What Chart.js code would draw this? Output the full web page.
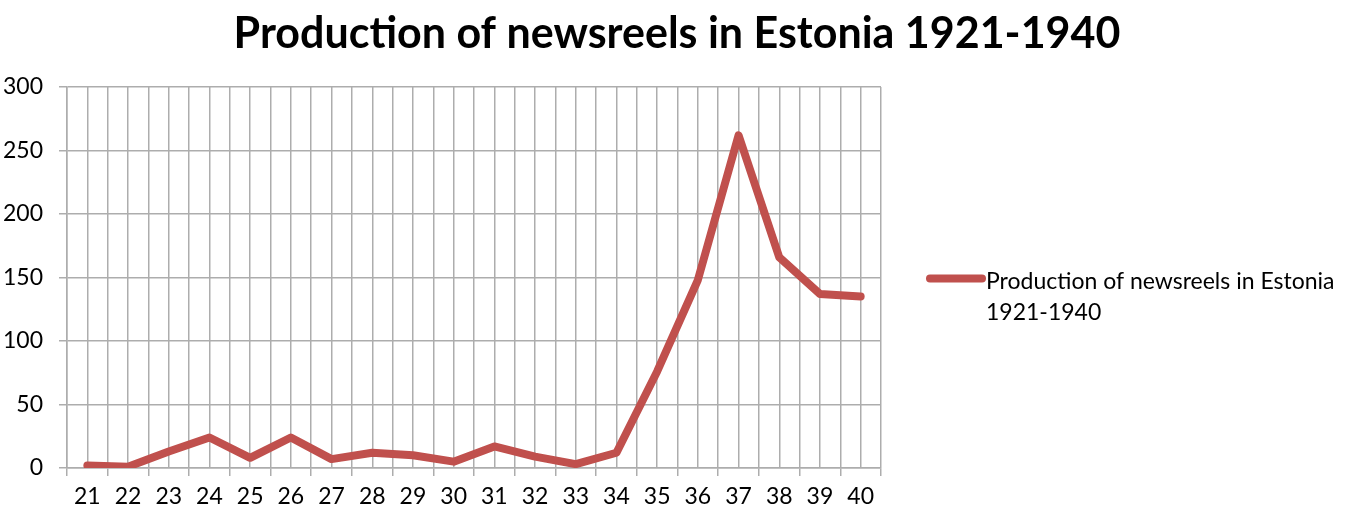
<!DOCTYPE html>
<html>
<head>
<meta charset="utf-8">
<script src="https://cdn.jsdelivr.net/npm/chart.js@4.4.1/dist/chart.umd.min.js"></script>
<style>
  html, body { margin: 0; padding: 0; background: #fff; }
  #wrap { width: 1354px; height: 515px; }
</style>
</head>
<body>
<div id="wrap"><canvas id="chart"></canvas></div>
<script>
// Werte (Jahre 1921-1940)
const years = ["21", "22", "23", "24", "25", "26", "27", "28", "29", "30",
               "31", "32", "33", "34", "35", "36", "37", "38", "39", "40"];
const newsreels = [2, 1, 13, 24, 8, 24, 7, 12, 10, 5,
                   17, 9, 3, 12, 76, 148, 262, 166, 137, 135];
const yTicks = [0, 50, 100, 150, 200, 250, 300];

const seriesName = "Production of newsreels in Estonia 1921-1940";
const legendLines = ["Production of newsreels in Estonia", "1921-1940"];
const lineColor = "#C0504D";
const gridColor = "#ADADAD";
const fontFamily = "Lato, 'Open Sans', sans-serif";

// Titel ueber die ganze Breite + zweizeilige Legende rechts
const titleAndLegend = {
    id: "titleAndLegend",
    afterDraw(chart) {
        const ctx = chart.ctx;
        const { top, bottom, right } = chart.chartArea;
        const mid = (top + bottom) / 2;

        ctx.save();
        ctx.fillStyle = "#000";
        ctx.textAlign = "center";
        ctx.textBaseline = "middle";
        ctx.font = "bold 43px " + fontFamily;
        ctx.fillText(seriesName, chart.width / 2, 34);

        ctx.strokeStyle = lineColor;
        ctx.lineWidth = 8;
        ctx.lineCap = "round";
        ctx.beginPath();
        ctx.moveTo(right + 49, mid + 1);
        ctx.lineTo(right + 101, mid + 1);
        ctx.stroke();

        ctx.font = "23px " + fontFamily;
        ctx.textAlign = "left";
        ctx.fillText(legendLines[0], right + 105, mid + 4);
        ctx.fillText(legendLines[1], right + 105, mid + 35);
        ctx.restore();
    }
};

new Chart(document.getElementById("chart"), {
    type: "line",
    plugins: [titleAndLegend],
    data: {
        labels: years,
        datasets: [{
            label: seriesName,
            data: newsreels,
            borderColor: lineColor,
            borderWidth: 8,
            borderCapStyle: "round",
            borderJoinStyle: "round",
            pointRadius: 0,
            tension: 0,
            fill: false
        }]
    },
    options: {
        responsive: true,
        maintainAspectRatio: false,
        animation: false,
        layout: { padding: { left: 0, right: 473, top: 87, bottom: 0 } },
        plugins: {
            legend: { display: false },
            tooltip: { enabled: false },
            title: { display: false }
        },
        scales: {
            x: {
                type: "category",
                offset: true,
                grid: {
                    offset: true,
                    color: gridColor,
                    lineWidth: 1.5,
                    drawTicks: true,
                    tickLength: 8,
                    tickColor: gridColor
                },
                border: { color: gridColor, width: 1.5 },
                ticks: {
                    color: "#000",
                    font: { family: fontFamily, size: 23 },
                    padding: 7,
                    maxRotation: 0,
                    autoSkip: false
                },
                afterFit(scale) { scale.height = 47; }
            },
            // zweite Achse nur fuer die Gitterlinien in der Kategoriemitte
            xMid: {
                type: "category",
                position: "bottom",
                offset: true,
                grid: {
                    offset: false,
                    color: gridColor,
                    lineWidth: 1.5,
                    drawTicks: false
                },
                border: { display: false },
                ticks: { display: false },
                afterFit(scale) { scale.height = 0; }
            },
            y: {
                min: 0,
                max: 300,
                afterBuildTicks(scale) {
                    scale.ticks = yTicks.map(v => ({ value: v }));
                },
                grid: {
                    color: gridColor,
                    lineWidth: 1.5,
                    drawTicks: true,
                    tickLength: 8,
                    tickColor: gridColor
                },
                border: { color: gridColor, width: 1.5 },
                ticks: {
                    color: "#000",
                    font: { family: fontFamily, size: 23 },
                    padding: 16
                },
                afterFit(scale) { scale.width = 67; }
            }
        }
    }
});
</script>
</body>
</html>
